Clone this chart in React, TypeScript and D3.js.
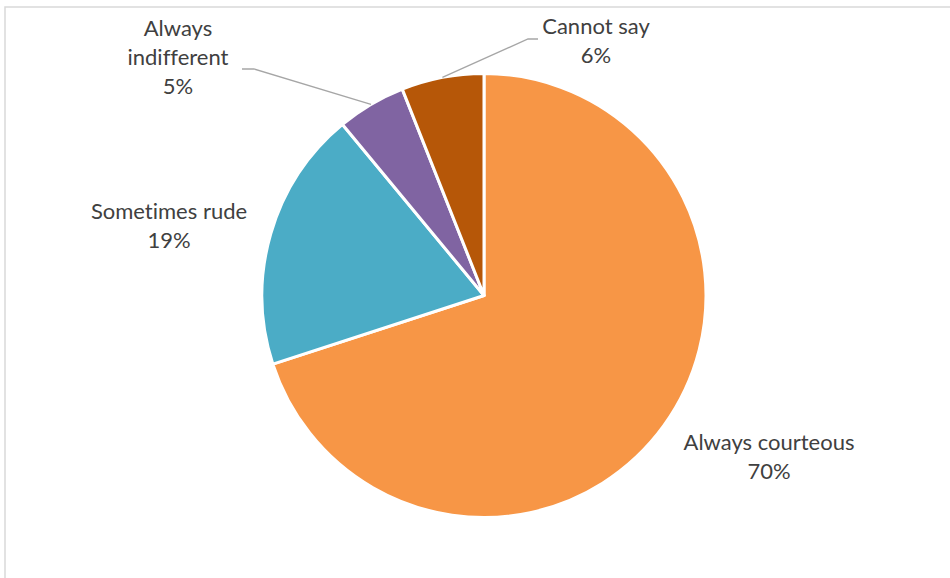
import React, { useEffect } from "react";
import * as d3 from "d3";

const categories = ["Always courteous", "Sometimes rude", "Always indifferent", "Cannot say"];
const values = [70, 19, 5, 6];
const labelLines = [["Always courteous", "70%"], ["Sometimes rude", "19%"], ["Always", "indifferent", "5%"], ["Cannot say", "6%"]];
const colors = ["#F79646", "#4BACC6", "#8064A2", "#B65708"];

const W = 950, H = 578;
const cx = 484, cy = 295.5, R = 222;
// label anchor positions (center x, first-line baseline y)
const labelPos = [
  { x: 769, y: 450 },
  { x: 169, y: 219 },
  { x: 178, y: 36 },
  { x: 596, y: 34 },
];
// leader elbows for labels that have them
const leaders: Record<number, [number, number][]> = {
  2: [[242, 69], [254, 69]],
  3: [[538, 39], [528, 39]],
};

export default function App() {
  useEffect(() => {
    document.body.style.margin = "0";
  }, []);
  const pie = d3.pie<number>().value((d) => d).sort(null)(values);
  const arc = d3.arc<d3.PieArcDatum<number>>().innerRadius(0).outerRadius(R);
  const lineGen = d3.line();
  return (
    <svg width={W} height={H} style={{ display: "block" }}>
      <rect x={0} y={0} width={W} height={H} fill="#fff" />
      <rect x={5} y={7} width={W + 20} height={H + 20} fill="none" stroke="#D9D9D9" strokeWidth={1.5} />
      <g transform={`translate(${cx},${cy})`}>
        {pie.map((p, i) => (
          <path key={i} d={arc(p) || ""} fill={colors[i]} stroke="#fff" strokeWidth={3} strokeLinejoin="round" />
        ))}
      </g>
      {Object.entries(leaders).map(([k, pts]) => {
        const i = +k;
        const p = pie[i];
        const mid = (p.startAngle + p.endAngle) / 2;
        const end: [number, number] = [cx + R * Math.sin(mid), cy - R * Math.cos(mid)];
        return <path key={k} d={lineGen([...pts, end]) || ""} fill="none" stroke="#A6A6A6" strokeWidth={1.3} />;
      })}
      {labelLines.map((lines, i) => (
        <text key={i} x={labelPos[i].x} y={labelPos[i].y} textAnchor="middle" fontFamily="Lato, 'Open Sans', sans-serif" fontSize={22} fill="#404040" style={{ fontVariantLigatures: "none" }}>
          {lines.map((l, j) => (
            <tspan key={j} x={labelPos[i].x} dy={j === 0 ? 0 : 29}>{l}</tspan>
          ))}
        </text>
      ))}
    </svg>
  );
}
